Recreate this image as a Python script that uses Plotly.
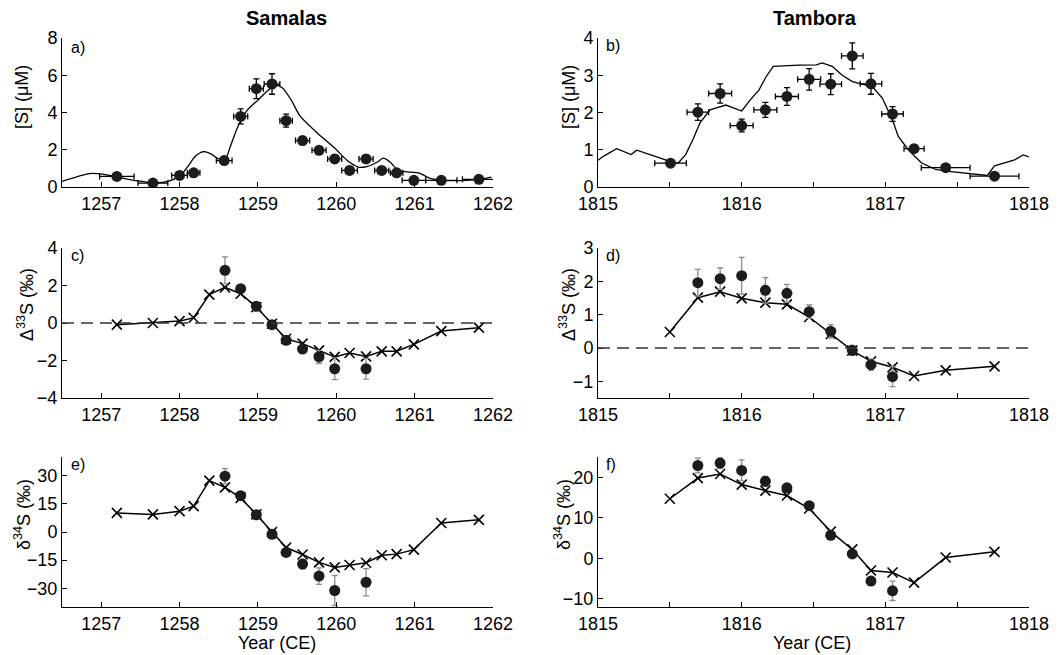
import plotly.graph_objects as go

# ---------------- Data ----------------
# Samalas [S] (panel a)
sam_s_year = [1257.2, 1257.66, 1258.0, 1258.18, 1258.57, 1258.78, 1258.98, 1259.18, 1259.36,
              1259.57, 1259.78, 1259.98, 1260.17, 1260.38, 1260.58, 1260.77, 1260.99, 1261.34, 1261.82]
sam_s_val = [0.57, 0.21, 0.62, 0.76, 1.42, 3.79, 5.28, 5.53, 3.56,
             2.49, 1.97, 1.51, 0.89, 1.51, 0.89, 0.76, 0.36, 0.36, 0.41]
sam_s_xerr = [0.22, 0.19, 0.1, 0.08, 0.1, 0.09, 0.09, 0.1, 0.08,
              0.09, 0.09, 0.09, 0.1, 0.09, 0.09, 0.08, 0.15, 0.2, 0.21]
sam_s_yerr = [0.15, 0.12, 0.15, 0.15, 0.2, 0.4, 0.53, 0.55, 0.35,
              0.22, 0.2, 0.2, 0.15, 0.18, 0.15, 0.15, 0.1, 0.1, 0.1]
sam_model_year = [1256.5, 1256.85, 1257.0, 1257.2, 1257.42, 1257.66, 1257.85, 1258.01, 1258.10,
                  1258.21, 1258.31, 1258.40, 1258.50, 1258.58, 1258.65, 1258.74, 1258.86, 1259.01,
                  1259.12, 1259.22, 1259.31, 1259.42, 1259.54, 1259.75, 1259.97, 1260.14, 1260.28,
                  1260.39, 1260.52, 1260.60, 1260.69, 1260.79, 1260.94, 1261.05, 1261.19, 1261.36,
                  1261.66, 1261.83, 1261.98]
sam_model_val = [0.3, 0.72, 0.7, 0.53, 0.36, 0.23, 0.3, 0.62, 1.07,
                 1.69, 1.9, 1.78, 1.51, 1.48, 2.2, 3.2, 4.1, 4.7,
                 5.15, 5.46, 5.33, 4.7, 3.8, 2.93, 2.13, 1.42, 1.07,
                 1.1, 1.33, 1.55, 1.33, 0.89, 0.8, 0.76, 0.48, 0.36,
                 0.36, 0.41, 0.53]

# Tambora [S] (panel b)
tam_s_year = [1815.505, 1815.695, 1815.85, 1816.0, 1816.165, 1816.315, 1816.47, 1816.62,
              1816.77, 1816.90, 1817.05, 1817.20, 1817.42, 1817.76]
tam_s_val = [0.64, 2.01, 2.51, 1.65, 2.07, 2.43, 2.89, 2.76, 3.52, 2.77, 1.96, 1.03, 0.52, 0.29]
tam_s_xerr = [0.11, 0.075, 0.08, 0.08, 0.08, 0.08, 0.08, 0.075, 0.075, 0.075, 0.075, 0.07, 0.17, 0.17]
tam_s_yerr = [0.07, 0.22, 0.26, 0.17, 0.2, 0.24, 0.29, 0.28, 0.35, 0.28, 0.2, 0.07, 0.05, 0.05]
tam_model_year = [1815.0, 1815.04, 1815.13, 1815.23, 1815.27, 1815.40, 1815.47, 1815.50, 1815.56,
                  1815.61, 1815.66, 1815.71, 1815.78, 1815.89, 1815.95, 1816.00, 1816.06, 1816.12,
                  1816.17, 1816.22, 1816.40, 1816.52, 1816.56, 1816.63, 1816.70, 1816.77, 1816.86,
                  1816.92, 1816.98, 1817.05, 1817.09, 1817.16, 1817.25, 1817.35, 1817.44, 1817.55,
                  1817.67, 1817.71, 1817.76, 1817.83, 1817.90, 1817.96, 1818.0]
tam_model_val = [0.72, 0.83, 1.03, 0.87, 0.99, 0.82, 0.73, 0.62, 0.65,
                 0.87, 1.27, 1.72, 2.07, 2.2, 2.12, 2.04, 2.34, 2.6,
                 2.96, 3.24, 3.27, 3.28, 3.33, 3.24, 3.0, 2.83, 2.74,
                 2.65, 2.38, 1.8, 1.36, 1.0, 0.65, 0.47, 0.42, 0.37,
                 0.32, 0.31, 0.57, 0.65, 0.73, 0.86, 0.81]

# Samalas isotopes: model (crosses) and measured (circles)
sam_iso_year = [1257.2, 1257.66, 1258.0, 1258.18, 1258.38, 1258.58, 1258.78, 1258.98, 1259.18,
                1259.36, 1259.57, 1259.78, 1259.98, 1260.17, 1260.38, 1260.58, 1260.77, 1260.99,
                1261.34, 1261.82]
sam_d33_model = [-0.09, 0.0, 0.1, 0.28, 1.51, 1.9, 1.56, 0.85, -0.04,
                 -0.84, -1.1, -1.46, -1.81, -1.6, -1.78, -1.51, -1.51, -1.14, -0.43, -0.25]
sam_d34_model = [10.2, 9.4, 11.1, 13.8, 27.4, 23.8, 18.2, 9.4, 0.0,
                 -8.3, -12.0, -16.2, -18.9, -17.6, -16.4, -12.4, -11.8, -9.4, 4.8, 6.5]
sam_obs_year = [1258.58, 1258.78, 1258.98, 1259.18, 1259.36, 1259.57, 1259.78, 1259.98, 1260.38]
sam_d33_obs = [2.81, 1.83, 0.89, -0.09, -0.92, -1.39, -1.81, -2.44, -2.44]
sam_d33_err = [0.72, 0.12, 0.12, 0.12, 0.12, 0.15, 0.35, 0.58, 0.55]
sam_d34_obs = [29.8, 19.4, 9.2, -1.2, -10.9, -17.1, -23.5, -31.2, -26.8]
sam_d34_err = [4.0, 1.2, 1.2, 1.2, 1.5, 2.5, 4.4, 8.0, 7.3]

# Tambora isotopes
tam_iso_year = [1815.50, 1815.695, 1815.85, 1816.0, 1816.165, 1816.315, 1816.47, 1816.62,
                1816.77, 1816.90, 1817.05, 1817.20, 1817.42, 1817.76]
tam_d33_model = [0.48, 1.51, 1.69, 1.49, 1.36, 1.31, 0.93, 0.42, -0.08, -0.4, -0.58, -0.84, -0.67, -0.55]
tam_d34_model = [14.7, 19.8, 20.8, 18.2, 16.7, 15.5, 12.3, 6.6, 2.2, -3.0, -3.5, -6.0, 0.2, 1.6]
tam_obs_year = [1815.695, 1815.85, 1816.0, 1816.165, 1816.315, 1816.47, 1816.62, 1816.77, 1816.90, 1817.05]
tam_d33_obs = [1.96, 2.08, 2.17, 1.73, 1.64, 1.09, 0.5, -0.07, -0.5, -0.86]
tam_d33_err = [0.4, 0.32, 0.55, 0.38, 0.27, 0.2, 0.2, 0.15, 0.17, 0.3]
tam_d34_obs = [22.9, 23.5, 21.7, 19.0, 17.4, 13.0, 5.7, 1.1, -5.6, -8.0]
tam_d34_err = [1.8, 1.3, 2.6, 1.2, 1.0, 0.6, 0.6, 0.6, 1.0, 2.4]

# Axis settings
sam_xticks = [1257, 1258, 1259, 1260, 1261, 1262]
tam_xticks = [1815, 1815.5, 1816, 1816.5, 1817, 1817.5, 1818]
tam_xtext = ["1815", "", "1816", "", "1817", "", "1818"]

FONT = "Liberation Sans"
BLACK = "#000000"
GREY = "#8c8c8c"
DOT = "#1c1c1c"

fig = go.Figure()

def add_obs_s(xa, ya, x, y, ex, ey):
    fig.add_trace(go.Scatter(
        x=x, y=y, mode="markers", xaxis=xa, yaxis=ya,
        marker=dict(symbol="circle", size=11, color=DOT, line=dict(width=0)),
        error_x=dict(type="data", array=ex, color=BLACK, thickness=1.3, width=3),
        error_y=dict(type="data", array=ey, color=BLACK, thickness=1.3, width=3),
        showlegend=False))

def add_model_line(xa, ya, x, y, shape):
    fig.add_trace(go.Scatter(
        x=x, y=y, mode="lines", xaxis=xa, yaxis=ya,
        line=dict(color=BLACK, width=1.3, shape=shape, smoothing=0.8),
        showlegend=False))

def add_iso(xa, ya, mx, my, ox, oy, oe):
    fig.add_trace(go.Scatter(
        x=mx, y=my, mode="lines+markers", xaxis=xa, yaxis=ya,
        line=dict(color=BLACK, width=1.5),
        marker=dict(symbol="x-thin", size=10, line=dict(width=1.6, color=BLACK)),
        showlegend=False))
    fig.add_trace(go.Scatter(
        x=ox, y=oy, mode="markers", xaxis=xa, yaxis=ya,
        marker=dict(symbol="circle", size=11, color=DOT, line=dict(width=0)),
        error_y=dict(type="data", array=oe, color=GREY, thickness=1.3, width=3),
        showlegend=False))

add_model_line("x", "y", sam_model_year, sam_model_val, "spline")
add_obs_s("x", "y", sam_s_year, sam_s_val, sam_s_xerr, sam_s_yerr)
add_model_line("x2", "y2", tam_model_year, tam_model_val, "linear")
add_obs_s("x2", "y2", tam_s_year, tam_s_val, tam_s_xerr, tam_s_yerr)
add_iso("x3", "y3", sam_iso_year, sam_d33_model, sam_obs_year, sam_d33_obs, sam_d33_err)
add_iso("x4", "y4", tam_iso_year, tam_d33_model, tam_obs_year, tam_d33_obs, tam_d33_err)
add_iso("x5", "y5", sam_iso_year, sam_d34_model, sam_obs_year, sam_d34_obs, sam_d34_err)
add_iso("x6", "y6", tam_iso_year, tam_d34_model, tam_obs_year, tam_d34_obs, tam_d34_err)

W, H = 1064, 655
colx = [(62, 493), (598, 1029)]
rowy = [(38, 187), (248, 398), (457, 607)]

def xdom(c):
    return [colx[c][0] / W, colx[c][1] / W]

def ydom(r):
    return [1 - rowy[r][1] / H, 1 - rowy[r][0] / H]

axis_common = dict(showline=True, linecolor=BLACK, linewidth=1, ticks="inside", ticklen=5,
                   tickcolor=BLACK, showgrid=False, zeroline=False, mirror=False,
                   automargin=False,
                   tickfont=dict(family=FONT, size=18, color=BLACK))

layout = dict(width=W, height=H, margin=dict(l=0, r=0, t=0, b=0, pad=0, autoexpand=False),
              paper_bgcolor="white", plot_bgcolor="white", showlegend=False,
              font=dict(family=FONT, color=BLACK))

yranges = [[0, 8], [0, 4], [-4, 4], [-1.5, 3], [-40, 40], [-12, 25]]
yticks = [[0, 2, 4, 6, 8], [0, 1, 2, 3, 4], [-4, -2, 0, 2, 4], [-1, 0, 1, 2, 3],
          [-30, -15, 0, 15, 30], [-10, 0, 10, 20]]
for i in range(6):
    r, c = divmod(i, 2)
    n = "" if i == 0 else str(i + 1)
    if c == 0:
        xa = dict(range=[1256.5, 1262], tickmode="array", tickvals=sam_xticks)
    else:
        xa = dict(range=[1815, 1818], tickmode="array", tickvals=tam_xticks, ticktext=tam_xtext)
    xa.update(axis_common)
    xa.update(domain=xdom(c), anchor="y" + n)
    ya = dict(range=yranges[i], tickmode="array", tickvals=yticks[i])
    ya.update(axis_common)
    ya.update(domain=ydom(r), anchor="x" + n)
    layout["xaxis" + n] = xa
    layout["yaxis" + n] = ya

fig.update_layout(**layout)

# dashed zero lines
for n in ["3", "4"]:
    fig.add_shape(type="line", xref="x" + n + " domain", yref="y" + n, x0=0, x1=1, y0=0, y1=0,
                  line=dict(color="#333333", width=1.3, dash="12px,7px"))

ann = []
def text(x, y, s, size=17, angle=0, bold=False, xanchor="center", yanchor="middle"):
    ann.append(dict(x=x / W, y=1 - y / H, xref="paper", yref="paper", text=("<b>%s</b>" % s) if bold else s,
                    showarrow=False, textangle=angle, xanchor=xanchor, yanchor=yanchor,
                    font=dict(family=FONT, size=size, color=BLACK)))

text(286, 18, "Samalas", size=20, bold=True)
text(815, 18, "Tambora", size=20, bold=True)
text(277, 643, "Year (CE)", size=18)
text(812, 643, "Year (CE)", size=18)
text(22, 97, "[S] (μM)", size=18, angle=-90)
text(569, 97, "[S] (μM)", size=18, angle=-90)
text(25, 305, "Δ<sup>33</sup>S (‰)", size=18, angle=-90)
text(567, 305, "Δ<sup>33</sup>S (‰)", size=18, angle=-90)
text(22, 515, "δ<sup>34</sup>S (‰)", size=18, angle=-90)
text(562, 515, "δ<sup>34</sup>S (‰)", size=18, angle=-90)
for lab, x, y in [("a)", 69, 48), ("b)", 604, 46), ("c)", 69, 256), ("d)", 604, 256),
                  ("e)", 69, 464), ("f)", 604, 464)]:
    text(x, y, lab, size=16, xanchor="left")

fig.update_layout(annotations=ann)
fig.write_html("out.html")
